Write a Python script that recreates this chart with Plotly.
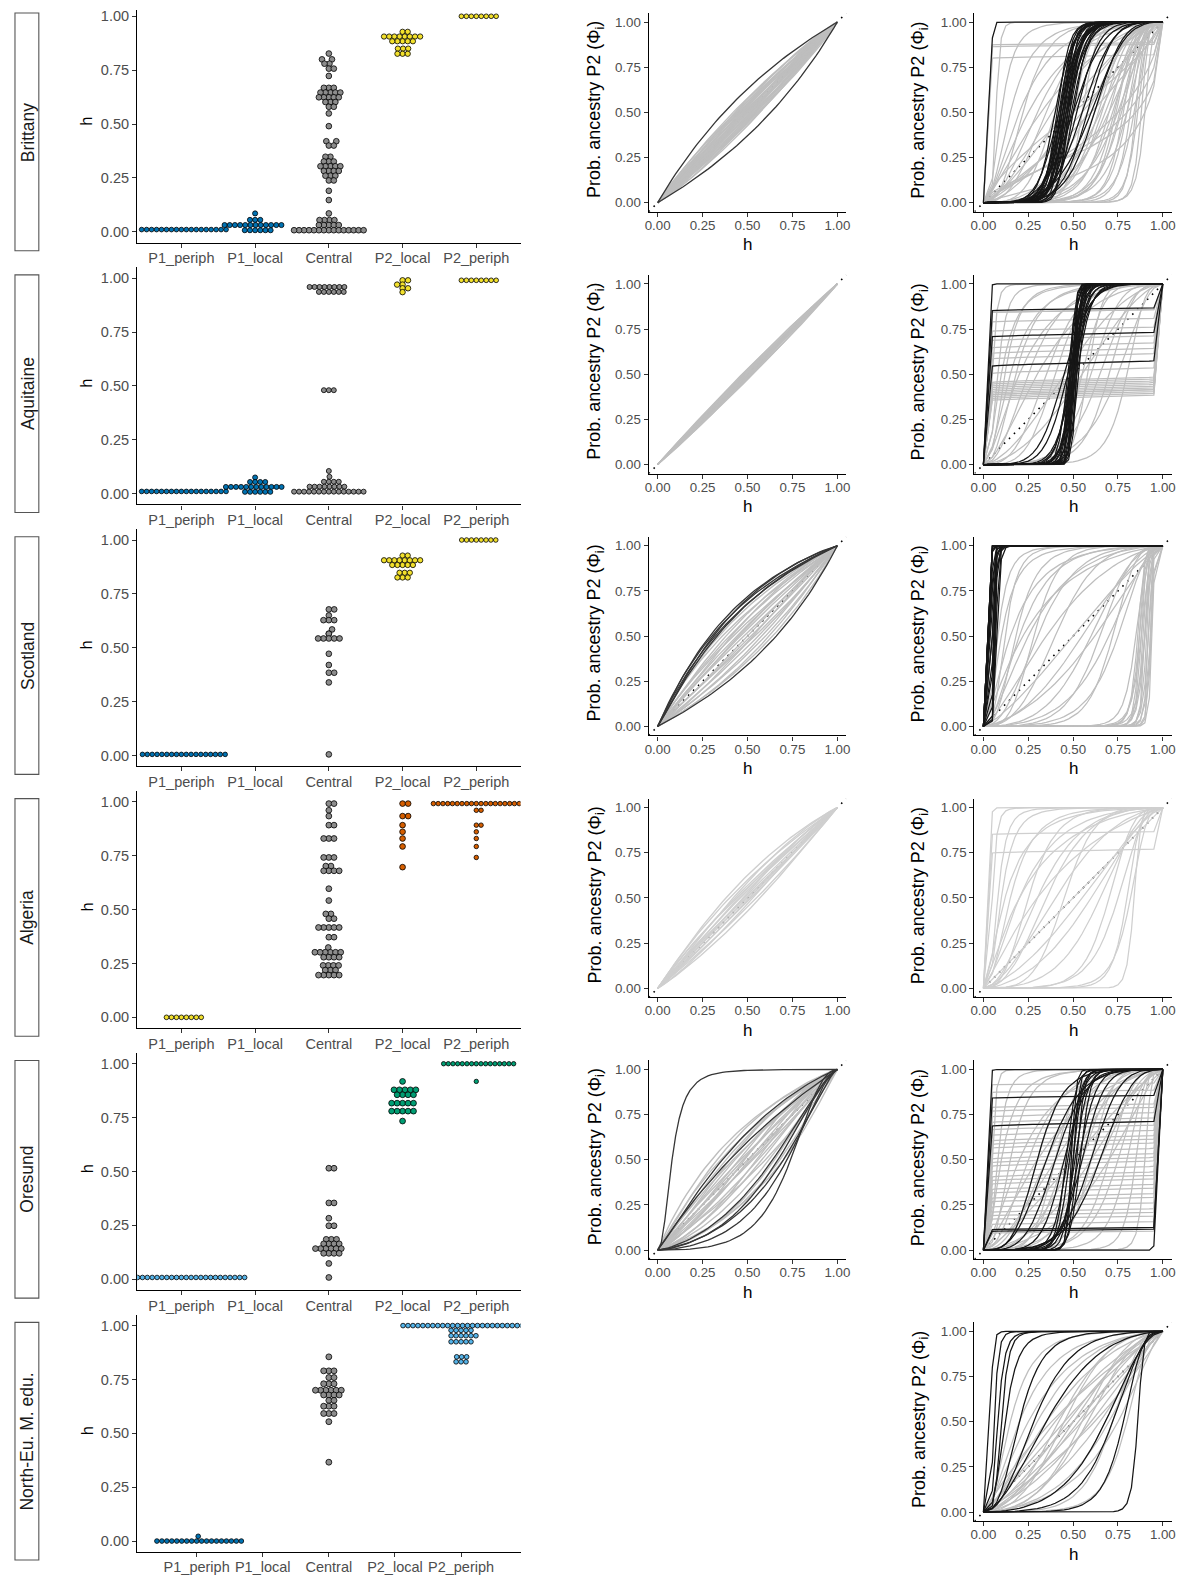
import numpy as np
import plotly.graph_objects as go

W, H = 1190, 1577          # reference canvas
OX, OY = 8, 8              # page body margin offset
FW, FH = W - OX, H - OY    # figure size
FONT = "Liberation Sans, Arial, Helvetica, sans-serif"

categories = ["P1_periph", "P1_local", "Central", "P2_local", "P2_periph"]
row_names = ["Brittany", "Aquitaine", "Scotland", "Algeria", "Oresund", "North-Eu. M. edu."]
h_ticks = [0, 0.25, 0.5, 0.75, 1.0]
h_ticktext = ["0.00", "0.25", "0.50", "0.75", "1.00"]

# ---------------- hybrid index (h) per individual ----------------
brittany_P1_periph = [0.01] * 18
brittany_P1_local = [0.085] + [0.055] * 3 + [0.031] * 12 + [0.007] * 6
brittany_central = ([0.827] + [0.80] * 2 + [0.78] * 2 + [0.757] * 2 + [0.723] + [0.668] * 3 + [0.646] * 5
                    + [0.624] * 5 + [0.602] * 3 + [0.58] * 2 + [0.549] + [0.49] + [0.42] * 2 + [0.40] * 2
                    + [0.348] * 2 + [0.326] * 3 + [0.304] * 5 + [0.282] * 4 + [0.26] * 3 + [0.238] * 2
                    + [0.19] + [0.147] + [0.085] + [0.054] * 4 + [0.031] * 5 + [0.007] * 15)
brittany_P2_local = [0.928] * 2 + [0.906] * 8 + [0.884] * 5 + [0.850] * 3 + [0.826] * 3
brittany_P2_periph = [1.0] * 8

aquitaine_P1_periph = [0.01] * 18
aquitaine_P1_local = [0.075] + [0.054] * 4 + [0.031] * 12 + [0.008] * 6
aquitaine_central = ([0.959] * 8 + [0.936] * 6 + [0.48] * 3 + [0.105] + [0.078] + [0.055] * 4
                     + [0.032] * 8 + [0.009] * 15)
aquitaine_P2_local = [0.99] * 2 + [0.97] * 2 + [0.953] * 2 + [0.935]
aquitaine_P2_periph = [0.99] * 8

scotland_P1_periph = [0.005] * 18
scotland_P1_local = []
scotland_central = ([0.678] * 2 + [0.65] + [0.628] * 3 + [0.585] + [0.565] * 2 + [0.543] * 5 + [0.472]
                    + [0.42] + [0.384] * 2 + [0.339] + [0.005])
scotland_P2_local = [0.928] * 2 + [0.906] * 8 + [0.884] * 5 + [0.848] * 3 + [0.826] * 3
scotland_P2_periph = [1.0] * 8

algeria_P1_periph = [0.0] * 8
algeria_P1_local = []
algeria_central = ([0.992] * 2 + [0.961] + [0.934] + [0.892] * 2 + [0.83] * 3 + [0.742] * 3 + [0.702] * 2
                   + [0.68] * 4 + [0.597] + [0.542] + [0.48] * 2 + [0.458] * 2 + [0.417] * 5 + [0.372] * 2
                   + [0.324] + [0.302] * 6 + [0.279] * 4 + [0.241] * 4 + [0.219] * 3 + [0.196] * 5)
algeria_P2_local = [0.992] * 2 + [0.934] * 2 + [0.892] + [0.861] + [0.83] + [0.793] + [0.697]
algeria_P2_periph = [0.992] * 20 + [0.961] * 2 + [0.892] * 2 + [0.861] + [0.83] + [0.793] + [0.742]

oresund_P1_periph = [0.008] * 26
oresund_P1_local = []
oresund_central = ([0.515] * 2 + [0.354] * 2 + [0.283] + [0.248] * 2 + [0.185] * 3 + [0.164] * 4
                   + [0.142] * 6 + [0.12] * 4 + [0.073] + [0.008])
oresund_P2_local = [0.918] + [0.879] * 5 + [0.856] * 4 + [0.817] * 5 + [0.78] * 5 + [0.734]
oresund_P2_periph = [1.0] * 16 + [0.918]

northeu_P1_periph = [0.0] * 18 + [0.022]
northeu_P1_local = []
northeu_central = ([0.855] + [0.79] * 3 + [0.759] * 2 + [0.73] * 3 + [0.70] * 6 + [0.678] * 4 + [0.653] * 2
                   + [0.626] * 3 + [0.592] * 3 + [0.554] + [0.366])
northeu_P2_local = []
northeu_P2_periph = [1.0] * 25 + [0.978] * 5 + [0.953] * 6 + [0.925] * 5 + [0.855] * 3 + [0.832] * 3

BLUE, LBLUE, YEL, ORG, GRN, GRY = "#0072B2", "#56B4E9", "#F2E02C", "#D55E00", "#009E73", "#8C8C8C"

swarm_rows = [
    [brittany_P1_periph, brittany_P1_local, brittany_central, brittany_P2_local, brittany_P2_periph],
    [aquitaine_P1_periph, aquitaine_P1_local, aquitaine_central, aquitaine_P2_local, aquitaine_P2_periph],
    [scotland_P1_periph, scotland_P1_local, scotland_central, scotland_P2_local, scotland_P2_periph],
    [algeria_P1_periph, algeria_P1_local, algeria_central, algeria_P2_local, algeria_P2_periph],
    [oresund_P1_periph, oresund_P1_local, oresund_central, oresund_P2_local, oresund_P2_periph],
    [northeu_P1_periph, northeu_P1_local, northeu_central, northeu_P2_local, northeu_P2_periph],
]
swarm_colors = [
    [BLUE, BLUE, GRY, YEL, YEL],
    [BLUE, BLUE, GRY, YEL, YEL],
    [BLUE, BLUE, GRY, YEL, YEL],
    [YEL, YEL, GRY, ORG, ORG],
    [LBLUE, LBLUE, GRY, GRN, GRN],
    [BLUE, BLUE, GRY, LBLUE, LBLUE],
]
dot_sizes = [
    [5.0, 5.4, 6.0, 5.6, 5.0],
    [5.0, 5.3, 5.3, 5.8, 5.0],
    [4.9, 5.5, 6.0, 5.6, 4.9],
    [5.0, 5.5, 6.1, 6.0, 4.8],
    [4.9, 5.5, 6.1, 6.1, 4.7],
    [5.0, 5.5, 6.2, 5.5, 5.0],
]
swarm_gaps = [
    [5.0, 5.2, 5.0, 5.2, 5.0],
    [5.0, 5.1, 5.0, 5.5, 5.0],
    [4.9, 5.3, 5.4, 5.2, 4.9],
    [5.0, 5.3, 5.2, 5.6, 4.8],
    [4.9, 5.3, 5.2, 5.5, 4.7],
    [5.0, 5.3, 5.2, 5.2, 5.0],
]

# ---------------- cline parameters (centre, slope) ----------------
b2_gray = [(0.42, 1.0), (0.43, 1.05), (0.435, 0.95), (0.44, 1.0), (0.445, 1.1), (0.45, 1.0), (0.455, 0.95),
           (0.46, 1.05), (0.465, 1.0), (0.47, 1.1), (0.475, 0.95), (0.48, 1.0), (0.485, 1.05), (0.49, 1.0),
           (0.495, 1.1), (0.5, 1.0), (0.505, 0.95), (0.51, 1.0), (0.515, 1.05), (0.52, 1.0), (0.525, 1.1),
           (0.53, 0.95), (0.535, 1.0), (0.54, 1.05), (0.545, 1.0), (0.55, 1.1), (0.555, 1.0), (0.56, 0.95),
           (0.565, 1.0), (0.57, 1.05)]
b2_dark = [(0.37, 1.0), (0.63, 1.0)]

a2_gray = [(0.47, 1.0), (0.475, 1.02), (0.48, 0.98), (0.485, 1.0), (0.49, 1.03), (0.495, 0.97), (0.5, 1.0),
           (0.505, 1.02), (0.51, 0.98), (0.515, 1.0), (0.52, 1.03), (0.525, 0.97), (0.53, 1.0)]
a2_dark = []

s2_gray = [(0.34, 1.0), (0.36, 0.95), (0.38, 1.05), (0.4, 1.0), (0.41, 1.1), (0.42, 0.95), (0.44, 1.0),
           (0.45, 1.05), (0.46, 1.0), (0.48, 0.95), (0.5, 1.05), (0.52, 1.0), (0.53, 1.1), (0.54, 0.95),
           (0.56, 1.0), (0.58, 1.05), (0.6, 1.0), (0.62, 1.05), (0.64, 1.0)]
s2_dark = [(0.29, 1.05), (0.3, 1.0), (0.31, 1.1), (0.32, 1.0), (0.33, 1.05), (0.66, 1.0)]

al2_gray = [(0.38, 1.05), (0.4, 1.0), (0.42, 1.1), (0.43, 1.0), (0.44, 0.95), (0.45, 1.05), (0.46, 1.0),
            (0.47, 1.1), (0.48, 1.0), (0.49, 0.95), (0.5, 1.0), (0.51, 1.05), (0.52, 1.0), (0.53, 1.1),
            (0.55, 1.0), (0.57, 1.05)]
al2_dark = []

o2_gray = [(0.3, 1.0), (0.33, 1.1), (0.35, 1.0), (0.38, 1.1), (0.4, 1.2), (0.42, 1.0), (0.43, 1.1),
           (0.45, 1.2), (0.46, 1.0), (0.47, 1.1), (0.48, 1.3), (0.5, 1.0), (0.51, 1.2), (0.52, 1.1),
           (0.53, 1.0), (0.55, 1.3), (0.56, 1.1), (0.58, 1.2), (0.6, 1.0), (0.62, 1.2), (0.65, 1.3),
           (0.68, 1.2), (0.7, 1.1)]
o2_dark = [(0.08, 2.2), (0.36, 1.1), (0.4, 1.0), (0.64, 1.3), (0.67, 1.4), (0.7, 1.3), (0.72, 1.5),
           (0.74, 2.0)]

b3_gray = [(0.07, 6), (0.1, 2.5), (0.15, 2), (0.2, 1.6), (0.22, 2.5), (0.25, 1.4), (0.3, 1.8), (0.32, 1.2),
           (0.35, 2.2), (0.38, 1.5), (0.4, 3), (0.45, 1.3), (0.5, 1.5), (0.5, 0.8), (0.55, 1.2), (0.58, 2),
           (0.6, 1.0), (0.62, 2.5), (0.64, 3), (0.65, 2), (0.66, 2.8), (0.68, 2.2), (0.7, 3), (0.7, 1.8),
           (0.72, 2.5), (0.73, 3.2), (0.74, 3.5), (0.75, 2), (0.76, 3), (0.77, 2.6), (0.78, 4), (0.8, 2.5),
           (0.8, 3.5), (0.82, 4), (0.84, 3), (0.85, 5), (0.86, 4), (0.88, 5), (0.9, 4), (0.75, 0.8),
           (0.8, 0.7), (0.85, 0.6), (0.9, 0.8), (0.45, 4), (0.5, 5), (0.55, 6)]
b3_gray_plateau = [0.88, 0.87, 0.81]
b3_dark = [(0.04, 10), (0.40, 5), (0.41, 7), (0.42, 6), (0.42, 4), (0.43, 6.5), (0.43, 5), (0.44, 5),
           (0.44, 4.5), (0.44, 7.5), (0.45, 7), (0.45, 5), (0.46, 6), (0.46, 5.5), (0.46, 4), (0.47, 5),
           (0.47, 6), (0.48, 8), (0.48, 5.5), (0.49, 5), (0.5, 6), (0.5, 3), (0.52, 4), (0.55, 3),
           (0.58, 3.5), (0.6, 2.5), (0.62, 3), (0.45, 9), (0.47, 10), (0.43, 8)]
b3_dark_plateau = []

a3_gray = [(0.05, 4), (0.08, 3), (0.1, 2), (0.12, 2.5), (0.15, 1.8), (0.18, 2.2), (0.2, 1.5), (0.25, 2),
           (0.3, 1.5), (0.35, 2.5), (0.4, 3), (0.6, 3), (0.65, 2.5), (0.7, 3), (0.75, 2), (0.8, 3),
           (0.55, 4), (0.58, 6), (0.45, 1.5), (0.55, 1.5)]
a3_gray_plateau = [0.37, 0.38, 0.39, 0.40, 0.40, 0.41, 0.42, 0.43, 0.44, 0.45, 0.46, 0.47, 0.52, 0.56,
                   0.60, 0.63, 0.66, 0.70, 0.75, 0.80, 0.85, 0.85]
a3_dark = [(0.03, 10), (0.5, 12), (0.49, 15), (0.51, 10), (0.5, 20), (0.48, 12), (0.52, 14), (0.5, 8),
           (0.49, 9), (0.51, 18), (0.47, 10), (0.53, 11), (0.5, 25), (0.48, 16), (0.52, 20), (0.5, 14),
           (0.51, 7), (0.49, 6), (0.5, 5), (0.52, 6), (0.48, 7), (0.45, 3.5), (0.47, 4), (0.5, 30),
           (0.49, 11), (0.51, 13)]
a3_dark_plateau = [0.86, 0.72, 0.56]

s3_gray = [(0.08, 2.5), (0.1, 2), (0.12, 3), (0.15, 1.5), (0.18, 2.5), (0.2, 1.8), (0.25, 1.5), (0.28, 3),
           (0.3, 2), (0.35, 1.3), (0.4, 2.2), (0.22, 1.2), (0.6, 2), (0.65, 2.5), (0.7, 1.8), (0.72, 3),
           (0.75, 2.2), (0.55, 1.5), (0.62, 1.3), (0.5, 1.2), (0.86, 6), (0.87, 5), (0.88, 7), (0.89, 6),
           (0.9, 5), (0.9, 8), (0.91, 6), (0.92, 7), (0.92, 5), (0.93, 8), (0.935, 6), (0.94, 7),
           (0.88, 4), (0.85, 4), (0.87, 8), (0.9, 4), (0.93, 5)]
s3_gray_plateau = []
s3_dark = [(0.02, 8), (0.025, 10), (0.03, 7), (0.035, 9), (0.04, 8), (0.045, 10), (0.05, 7), (0.05, 12),
           (0.055, 9), (0.06, 8), (0.03, 12), (0.04, 6), (0.065, 10), (0.07, 9), (0.02, 6), (0.045, 7),
           (0.035, 11), (0.055, 6), (0.06, 11), (0.075, 8)]
s3_dark_plateau = []

al3_gray = [(0.03, 7), (0.05, 4), (0.08, 3), (0.1, 2.5), (0.12, 1.5), (0.15, 2), (0.2, 1.5), (0.25, 2.5),
            (0.3, 1.8), (0.35, 2), (0.4, 1.5), (0.45, 3), (0.2, 1.2), (0.3, 1.1), (0.5, 1), (0.55, 1.3),
            (0.6, 1.5), (0.7, 3), (0.75, 2.5), (0.8, 4), (0.82, 3), (0.84, 7), (0.65, 2)]
al3_gray_plateau = [0.86, 0.76]
al3_dark = []
al3_dark_plateau = []

o3_gray = [(0.05, 5), (0.08, 3), (0.1, 2), (0.15, 2.5), (0.2, 1.5), (0.25, 2), (0.3, 3), (0.35, 2),
           (0.4, 4), (0.45, 3), (0.5, 2), (0.55, 3), (0.6, 4), (0.65, 2), (0.7, 3), (0.75, 2.5), (0.8, 3),
           (0.85, 4), (0.9, 5), (0.5, 1.2), (0.4, 1.5), (0.6, 1.5), (0.3, 1.3), (0.7, 1.4)]
o3_gray_plateau = [0.1, 0.12, 0.15, 0.18, 0.2, 0.22, 0.25, 0.28, 0.3, 0.33, 0.35, 0.38, 0.4, 0.42, 0.45,
                   0.48, 0.5, 0.52, 0.55, 0.58, 0.6, 0.62, 0.65, 0.68, 0.7, 0.72, 0.75, 0.78, 0.8, 0.88, 0.92]
o3_dark = [(0.03, 10), (0.965, 10), (0.5, 10), (0.48, 8), (0.52, 12), (0.47, 6), (0.53, 5), (0.45, 4),
           (0.55, 4), (0.4, 3), (0.6, 3), (0.35, 2.5), (0.65, 2.5), (0.3, 3), (0.5, 15), (0.49, 20),
           (0.51, 7), (0.46, 9), (0.54, 9)]
o3_dark_plateau = [0.85, 0.70, 0.12, 0.11]

n3_gray = [(0.4, 1.2), (0.45, 1.1), (0.5, 1), (0.55, 1.1), (0.6, 1.2), (0.35, 1.3), (0.65, 1.3), (0.5, 1.5),
           (0.42, 1.8), (0.58, 1.8), (0.3, 1.5), (0.7, 1.5), (0.38, 1), (0.62, 1), (0.47, 1.3), (0.53, 1.3),
           (0.25, 1.4), (0.75, 1.4), (0.45, 2), (0.55, 2), (0.15, 2), (0.2, 1.6), (0.8, 2.5), (0.72, 2.5)]
n3_gray_plateau = []
n3_dark = [(0.04, 6), (0.06, 5), (0.08, 4), (0.1, 4.5), (0.12, 3), (0.2, 2.5), (0.28, 2), (0.35, 1.6),
           (0.86, 7), (0.78, 3), (0.72, 2.2), (0.68, 1.8)]
n3_dark_plateau = []

col2_panels = [(b2_gray, b2_dark), (a2_gray, a2_dark), (s2_gray, s2_dark), (al2_gray, al2_dark),
               (o2_gray, o2_dark), None]
col3_panels = [
    (b3_gray, b3_gray_plateau, b3_dark, b3_dark_plateau),
    (a3_gray, a3_gray_plateau, a3_dark, a3_dark_plateau),
    (s3_gray, s3_gray_plateau, s3_dark, s3_dark_plateau),
    (al3_gray, al3_gray_plateau, al3_dark, al3_dark_plateau),
    (o3_gray, o3_gray_plateau, o3_dark, o3_dark_plateau),
    (n3_gray, n3_gray_plateau, n3_dark, n3_dark_plateau),
]

GRID2 = np.linspace(0, 1, 51)
GRID3 = np.concatenate([[0.0], np.round(np.arange(0.05, 0.9501, 0.025), 4), [1.0]])


def cline_uv(h, u, v):
    h = np.asarray(h, float)
    out = np.empty_like(h)
    inner = (h > 0) & (h < 1)
    z = v * (np.log(1 - h[inner]) - np.log(h[inner])) + u
    out[inner] = 1.0 / (1.0 + np.exp(np.clip(z, -700, 700)))
    out[h <= 0] = 0.0
    out[h >= 1] = 1.0
    return out


def curve_sig(h, c, v):
    return cline_uv(h, v * np.log(c / (1 - c)), v)


def curve_plateau(h, level):
    return cline_uv(h, np.log((1 - level) / level), 0.02)


def pack(grid, sigs, plats):
    xs, ys = [], []
    for c, v in sigs:
        xs += list(grid) + [None]
        ys += list(curve_sig(grid, c, v)) + [None]
    for L in plats:
        xs += list(grid) + [None]
        ys += list(curve_plateau(grid, L)) + [None]
    return xs, ys


def swarm_offsets(vals, d, ypx):
    vals = np.asarray(vals, float)
    ys = vals * ypx
    order = np.argsort(ys, kind="stable")
    px, py = [], []
    xs = np.zeros(len(vals))
    for i in order:
        y = ys[i]
        cands = [0.0]
        for xj, yj in zip(px, py):
            dy = abs(y - yj)
            if dy < d:
                dx = np.sqrt(d * d - dy * dy)
                cands.extend([xj + dx, xj - dx])
        cands = sorted(set(round(c, 6) for c in cands), key=lambda c: (abs(c), -c))
        for c in cands:
            if all((c - xj) ** 2 + (y - yj) ** 2 >= d * d - 1e-6 for xj, yj in zip(px, py)):
                xs[i] = c
                break
        px.append(xs[i])
        py.append(y)
    return xs


# ---------------- layout geometry (reference pixels) ----------------
X1L, X1R = 134, 520
C2L, C2R = 649, 848
C3L, C3R = 977, 1175.7
PITCH = 262.2
COL1_H = 237.3
C23_H = 199


def col1_top(r):
    return 3.5 + PITCH * r


def c23_top(r):
    return 11 + PITCH * r


def px_x(px):
    return (px - OX) / FW


def px_y(py):
    return 1 - (py - OY) / FH


fig = go.Figure()
layout = {}
annotations = []
shapes = []
axis_count = [0]

tick_font1 = dict(family=FONT, size=14.5, color="#4D4D4D")
tick_font2 = dict(family=FONT, size=13.3, color="#4D4D4D")


def new_axes(x0, x1, top, bottom, xrange, yrange, xtv, xtt, ytv, ytt, tfont, xstand):
    yrange = list(yrange)
    if top < OY + 0.5:
        span = yrange[1] - yrange[0]
        cut = (OY + 0.5 - top) / (bottom - top) * span
        yrange[1] -= cut
        top = OY + 0.5
    axis_count[0] += 1
    k = axis_count[0]
    s = "" if k == 1 else str(k)
    common = dict(showgrid=False, zeroline=False, showline=True, linecolor="black", linewidth=1.3,
                  ticks="outside", ticklen=4, tickwidth=1, tickcolor="#333333", tickfont=tfont,
                  ticklabeloverflow="allow", fixedrange=True)
    layout["xaxis" + s] = dict(domain=[px_x(x0), px_x(x1)], anchor="y" + s, range=xrange,
                               tickmode="array", tickvals=xtv, ticktext=xtt,
                               ticklabelstandoff=xstand, **common)
    layout["yaxis" + s] = dict(domain=[max(0.0, px_y(bottom)), min(1.0, px_y(top))], anchor="x" + s,
                               range=yrange, tickmode="array", tickvals=ytv, ticktext=ytt, **common)
    return "x" + s, "y" + s


def ann(text, xpx, ypx, size, angle=0, color="black"):
    annotations.append(dict(text=text, x=px_x(xpx), y=px_y(ypx), xref="paper", yref="paper",
                            xanchor="center", yanchor="middle", showarrow=False, textangle=angle,
                            font=dict(family=FONT, size=size, color=color)))


def diag(xa, ya):
    fig.add_trace(go.Scatter(x=[-0.05, 1.05], y=[-0.05, 1.05], xaxis=xa, yaxis=ya, mode="lines",
                             line=dict(color="black", width=1.6, dash="1.6px,5.4px"),
                             hoverinfo="skip", showlegend=False))


for r in range(6):
    # ---- row strip label ----
    bt = 11 + PITCH * r
    shapes.append(dict(type="rect", xref="paper", yref="paper", x0=px_x(11), x1=px_x(35),
                       y0=px_y(bt + 238), y1=px_y(bt),
                       line=dict(color="#555555", width=1.1), fillcolor="white", layer="below"))
    ann(row_names[r], 23.5, bt + 119, 17.5, -90, "#1A1A1A")

    # ---- column 1: beeswarm ----
    top = col1_top(r)
    xr = [0.4, 5.6] if r < 5 else [0.1, 5.9]
    xa, ya = new_axes(X1L, X1R, top, top + COL1_H, xr, [-0.05, 1.05], [1, 2, 3, 4, 5], categories,
                      h_ticks, h_ticktext, tick_font1, -2)
    xppu = (X1R - X1L) / (xr[1] - xr[0])
    yppu = COL1_H / 1.1
    for g in range(5):
        vals = swarm_rows[r][g]
        if not vals:
            continue
        offs = swarm_offsets(vals, swarm_gaps[r][g], yppu)
        fig.add_trace(go.Scatter(
            x=(g + 1) + offs / xppu, y=vals, xaxis=xa, yaxis=ya, mode="markers",
            marker=dict(size=dot_sizes[r][g] - 0.3, color=swarm_colors[r][g],
                        line=dict(color="black", width=0.8)),
            hoverinfo="skip", showlegend=False, cliponaxis=True))
    ann("h", 83, top + 116, 16.5, -90)

    # ---- column 2: clines ----
    ctop = c23_top(r)
    if col2_panels[r] is not None:
        gray, dark = col2_panels[r]
        xa, ya = new_axes(C2L, C2R, ctop, ctop + C23_H, [-0.05, 1.05], [-0.05, 1.05],
                          h_ticks, h_ticktext, h_ticks, h_ticktext, tick_font2, -3)
        diag(xa, ya)
        gcol = "#CFCFCF" if r == 3 else "#BEBEBE"
        gx, gy = pack(GRID2, gray, [])
        fig.add_trace(go.Scatter(x=gx, y=gy, xaxis=xa, yaxis=ya, mode="lines",
                                 line=dict(color=gcol, width=1.4), hoverinfo="skip", showlegend=False))
        if dark:
            dx, dy = pack(GRID2, dark, [])
            fig.add_trace(go.Scatter(x=dx, y=dy, xaxis=xa, yaxis=ya, mode="lines",
                                     line=dict(color="#363636", width=1.3), hoverinfo="skip",
                                     showlegend=False))
        ann("Prob. ancestry P2 (Φ<sub>i</sub>)", 596, ctop + 97, 18, -90)
        ann("h", (C2L + C2R) / 2, ctop + C23_H + 33, 17)

    # ---- column 3: clines ----
    gray, gplat, dark, dplat = col3_panels[r]
    xa, ya = new_axes(C3L, C3R, ctop, ctop + C23_H, [-0.05, 1.05], [-0.05, 1.05],
                      h_ticks, h_ticktext, h_ticks, h_ticktext, tick_font2, -3)
    diag(xa, ya)
    gcol = "#CFCFCF" if r == 3 else "#BEBEBE"
    gx, gy = pack(GRID3, gray, gplat)
    fig.add_trace(go.Scatter(x=gx, y=gy, xaxis=xa, yaxis=ya, mode="lines",
                             line=dict(color=gcol, width=1.25), hoverinfo="skip", showlegend=False))
    if dark or dplat:
        dx, dy = pack(GRID3, dark, dplat)
        fig.add_trace(go.Scatter(x=dx, y=dy, xaxis=xa, yaxis=ya, mode="lines",
                                 line=dict(color="#161616", width=1.25), hoverinfo="skip",
                                 showlegend=False))
    ann("Prob. ancestry P2 (Φ<sub>i</sub>)", 922, ctop + 97, 18, -90)
    ann("h", (C3L + C3R) / 2, ctop + C23_H + 33, 17)

fig.update_layout(width=FW, height=FH, margin=dict(l=0, r=0, t=0, b=0),
                  plot_bgcolor="white", paper_bgcolor="white", showlegend=False,
                  annotations=annotations, shapes=shapes, font=dict(family=FONT), **layout)

fig.write_html("out.html")
